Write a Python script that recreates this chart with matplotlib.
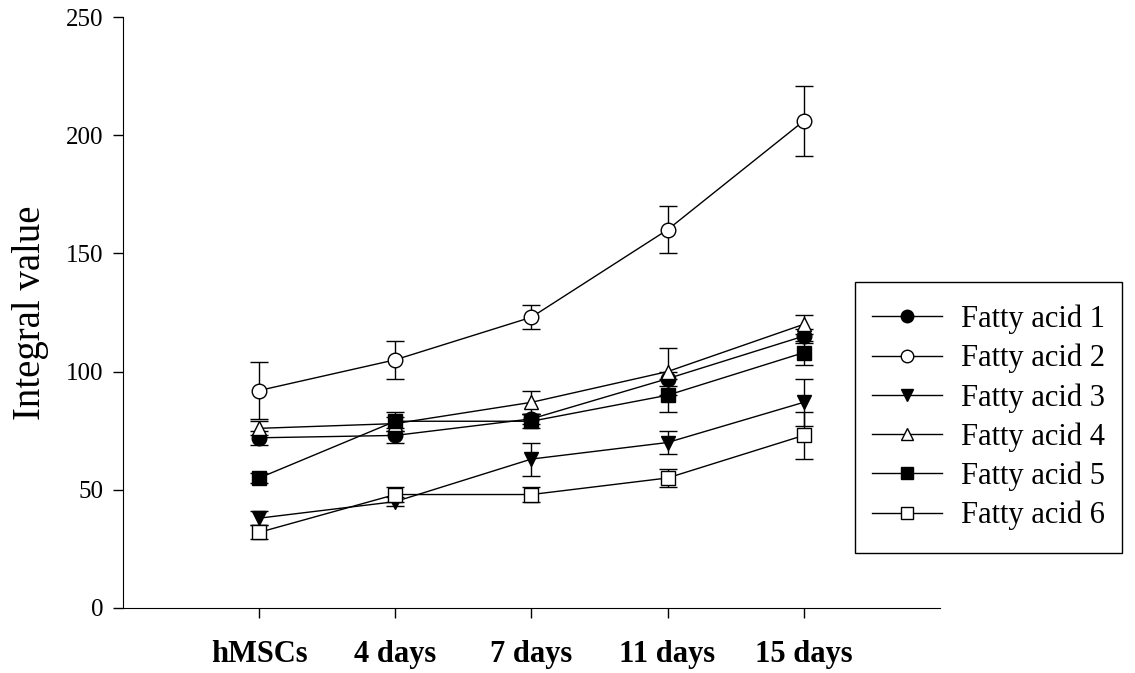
import numpy as np
import matplotlib.pyplot as plt
from matplotlib.lines import Line2D
from matplotlib.patches import Rectangle

plt.rcParams['font.family'] = ['Liberation Serif', 'DejaVu Serif']

groups = ['hMSCs', '4 days', '7 days', '11 days', '15 days']
names = ['Fatty acid 1', 'Fatty acid 2', 'Fatty acid 3',
         'Fatty acid 4', 'Fatty acid 5', 'Fatty acid 6']

fa1 = [72, 73, 80, 97, 115]
fa1_err = [3, 3, 2, 3, 3]
fa2 = [92, 105, 123, 160, 206]
fa2_err = [12, 8, 5, 10, 15]
fa3 = [38, 45, 63, 70, 87]
fa3_err = [3, 2, 7, 5, 10]
fa4 = [76, 78, 87, 100, 120]
fa4_err = [3, 3, 5, 10, 4]
fa5 = [55, 79, 79, 90, 108]
fa5_err = [2, 4, 3, 7, 5]
fa6 = [32, 48, 48, 55, 73]
fa6_err = [3, 3, 3, 4, 10]

values = [fa1, fa2, fa3, fa4, fa5, fa6]
errors = [fa1_err, fa2_err, fa3_err, fa4_err, fa5_err, fa6_err]
markers = ['o', 'o', 'v', '^', 's', 's']
faces = ['black', 'white', 'black', 'white', 'black', 'white']

fig = plt.figure(figsize=(11.35, 6.73), dpi=100)
ax = fig.add_axes([0.1084, 0.0966, 0.7196, 0.8781])

x = np.arange(len(groups))
for i in range(6):
    ax.errorbar(x, values[i], yerr=errors[i], color='black', lw=1,
                marker=markers[i], mfc=faces[i], mec='black', ms=10.5,
                capsize=6.5, capthick=1, elinewidth=1)

ax.set_xlim(-1, 5)
ax.set_ylim(0, 250)
ax.set_yticks([0, 50, 100, 150, 200, 250])
ax.set_xticks(x)
ax.set_xticklabels(groups, fontsize=22, fontweight='bold')
ax.tick_params(axis='y', labelsize=18, direction='out', length=7, width=1, pad=7)
ax.tick_params(axis='x', direction='out', length=7, width=1, pad=16)
ax.spines['top'].set_visible(False)
ax.spines['right'].set_visible(False)
ax.set_ylabel('Integral value', fontsize=28, labelpad=12)

# legend: line + marker only, no error bars; box drawn separately
handles = [Line2D([], [], color='black', lw=1, marker=markers[i],
                  mfc=faces[i], mec='black', ms=9) for i in range(6)]
box_l, box_r, box_t, box_b = 855 / 1135, 1122 / 1135, 1 - 282 / 673, 1 - 553 / 673
fig.add_artist(Rectangle((box_l, box_b), box_r - box_l, box_t - box_b,
                         transform=fig.transFigure, fill=False,
                         edgecolor='black', lw=1))
leg = fig.legend(handles, names, loc='center',
                 bbox_to_anchor=((box_l + box_r) / 2, (box_t + box_b) / 2),
                 fontsize=22, frameon=False, handlelength=2.3,
                 labelspacing=0.32, borderpad=0, handletextpad=0.6,
                 borderaxespad=0)

fig.savefig('out.png', dpi=100)
